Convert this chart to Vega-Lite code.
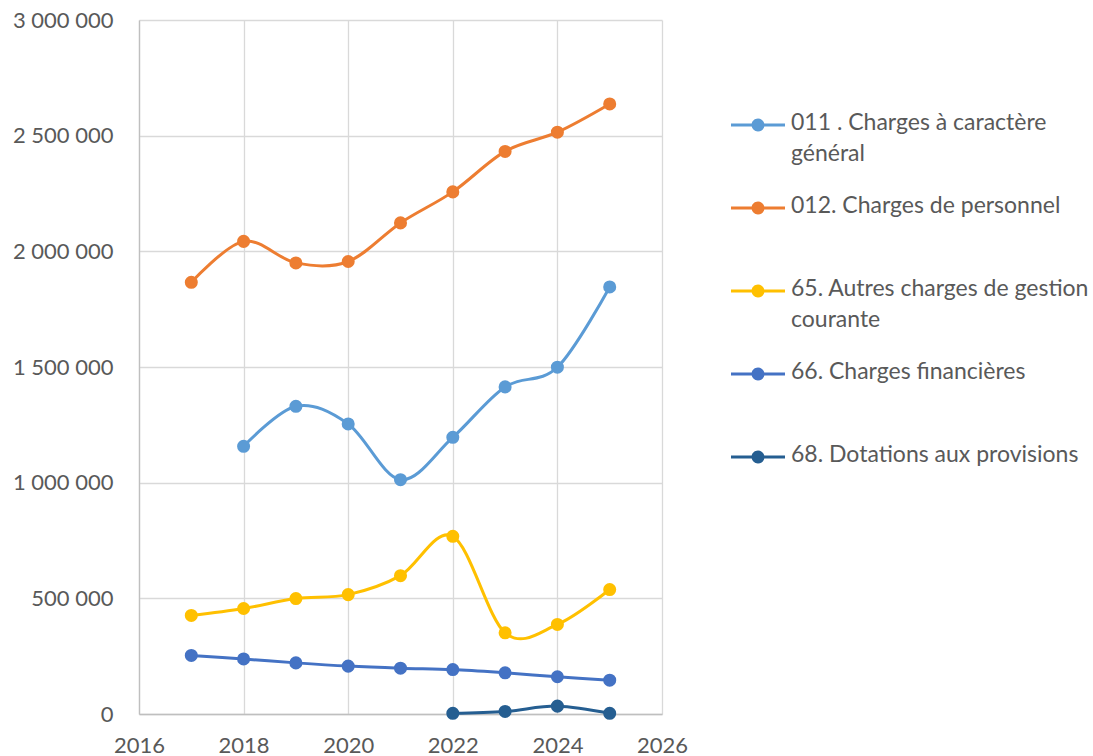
{
  "$schema": "https://vega.github.io/schema/vega-lite/v6.json",
  "width": 523,
  "height": 694,
  "autosize": "none",
  "padding": {"left": 139, "top": 20, "right": 431, "bottom": 42},
  "config": {
    "view": {"stroke": null},
    "locale": {"number": {"decimal": ",", "thousands": " ", "grouping": [3], "currency": ["", " €"]}},
    "axis": {"labelFont": "Lato", "labelFontSize": 22, "labelColor": "#595959", "gridColor": "#d9d9d9", "gridWidth": 1.3, "domainColor": "#bfbfbf", "domainWidth": 1.3, "ticks": false, "title": null}
  },
  "data": {
    "values": [
      {"year": 2018, "serie": "011 . Charges à caractère général", "value": 1157000},
      {"year": 2019, "serie": "011 . Charges à caractère général", "value": 1330000},
      {"year": 2020, "serie": "011 . Charges à caractère général", "value": 1254000},
      {"year": 2021, "serie": "011 . Charges à caractère général", "value": 1013000},
      {"year": 2022, "serie": "011 . Charges à caractère général", "value": 1196000},
      {"year": 2023, "serie": "011 . Charges à caractère général", "value": 1414000},
      {"year": 2024, "serie": "011 . Charges à caractère général", "value": 1499000},
      {"year": 2025, "serie": "011 . Charges à caractère général", "value": 1846000},
      {"year": 2017, "serie": "012. Charges de personnel", "value": 1866000},
      {"year": 2018, "serie": "012. Charges de personnel", "value": 2043000},
      {"year": 2019, "serie": "012. Charges de personnel", "value": 1950000},
      {"year": 2020, "serie": "012. Charges de personnel", "value": 1956000},
      {"year": 2021, "serie": "012. Charges de personnel", "value": 2123000},
      {"year": 2022, "serie": "012. Charges de personnel", "value": 2257000},
      {"year": 2023, "serie": "012. Charges de personnel", "value": 2432000},
      {"year": 2024, "serie": "012. Charges de personnel", "value": 2515000},
      {"year": 2025, "serie": "012. Charges de personnel", "value": 2637000},
      {"year": 2017, "serie": "65. Autres charges de gestion courante", "value": 426000},
      {"year": 2018, "serie": "65. Autres charges de gestion courante", "value": 456000},
      {"year": 2019, "serie": "65. Autres charges de gestion courante", "value": 499000},
      {"year": 2020, "serie": "65. Autres charges de gestion courante", "value": 516000},
      {"year": 2021, "serie": "65. Autres charges de gestion courante", "value": 598000},
      {"year": 2022, "serie": "65. Autres charges de gestion courante", "value": 768000},
      {"year": 2023, "serie": "65. Autres charges de gestion courante", "value": 351000},
      {"year": 2024, "serie": "65. Autres charges de gestion courante", "value": 387000},
      {"year": 2025, "serie": "65. Autres charges de gestion courante", "value": 538000},
      {"year": 2017, "serie": "66. Charges financières", "value": 253000},
      {"year": 2018, "serie": "66. Charges financières", "value": 238000},
      {"year": 2019, "serie": "66. Charges financières", "value": 221000},
      {"year": 2020, "serie": "66. Charges financières", "value": 207000},
      {"year": 2021, "serie": "66. Charges financières", "value": 198000},
      {"year": 2022, "serie": "66. Charges financières", "value": 192000},
      {"year": 2023, "serie": "66. Charges financières", "value": 178000},
      {"year": 2024, "serie": "66. Charges financières", "value": 161000},
      {"year": 2025, "serie": "66. Charges financières", "value": 146000},
      {"year": 2022, "serie": "68. Dotations aux provisions", "value": 3000},
      {"year": 2023, "serie": "68. Dotations aux provisions", "value": 11000},
      {"year": 2024, "serie": "68. Dotations aux provisions", "value": 34000},
      {"year": 2025, "serie": "68. Dotations aux provisions", "value": 3000}
    ]
  },
  "mark": {"type": "line", "interpolate": "cardinal", "strokeWidth": 3, "point": {"filled": true, "size": 170}},
  "encoding": {
    "x": {"field": "year", "type": "quantitative", "scale": {"domain": [2016, 2026], "nice": false, "zero": false},
      "axis": {"values": [2016, 2018, 2020, 2022, 2024, 2026], "format": "d", "labelPadding": 21, "labelFlush": false, "grid": true}},
    "y": {"field": "value", "type": "quantitative", "scale": {"domain": [0, 3000000], "nice": false},
      "axis": {"values": [0, 500000, 1000000, 1500000, 2000000, 2500000, 3000000], "format": ",d", "labelPadding": 26, "grid": true}},
    "color": {"field": "serie", "type": "nominal",
      "scale": {"domain": ["011 . Charges à caractère général", "012. Charges de personnel", "65. Autres charges de gestion courante", "66. Charges financières", "68. Dotations aux provisions"],
        "range": ["#5B9BD5", "#ED7D31", "#FFC000", "#4472C4", "#255E91"]},
      "legend": {
        "title": null, "orient": "none", "legendX": 592, "legendY": 78,
        "symbolType": "M -1 -0.056 L 1 -0.056 L 1 0.056 L -1 0.056 Z M -0.24 0 A 0.24 0.24 0 1 1 0.24 0 A 0.24 0.24 0 1 1 -0.24 0 Z",
        "symbolSize": 2916, "symbolStrokeWidth": 0, "symbolOpacity": 1,
        "labelFont": "Lato", "labelFontSize": 23, "labelColor": "#595959", "labelLimit": 500, "labelOffset": 6,
        "labelBaseline": "top", "rowPadding": 15,
        "labelExpr": "datum.label == '011 . Charges à caractère général' ? ['011 . Charges à caractère', 'général'] : datum.label == '65. Autres charges de gestion courante' ? ['65. Autres charges de gestion', 'courante'] : [datum.label, '']",
        "encode": {
          "symbols": {"update": {"fill": {"scale": "color", "field": "value"}, "strokeWidth": {"value": 0}}},
          "labels": {"update": {"lineHeight": {"value": 31}, "dy": {"value": -13}}}
        }
      }
    }
  }
}
